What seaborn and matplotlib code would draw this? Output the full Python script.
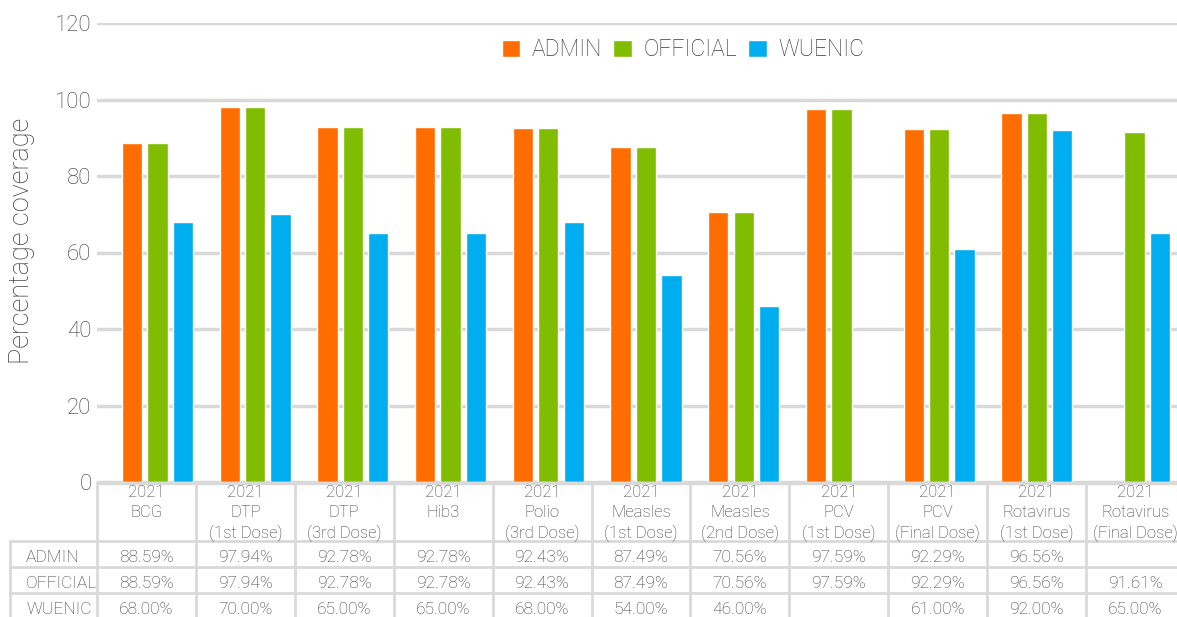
import numpy as np
import pandas as pd
import matplotlib
matplotlib.use("Agg")
import matplotlib.pyplot as plt
import seaborn as sns

# data
vaccines = ["BCG", "DTP\n(1st Dose)", "DTP\n(3rd Dose)", "Hib3", "Polio\n(3rd Dose)",
            "Measles\n(1st Dose)", "Measles\n(2nd Dose)", "PCV\n(1st Dose)",
            "PCV\n(Final Dose)", "Rotavirus\n(1st Dose)", "Rotavirus\n(Final Dose)"]
year = "2021"
admin = [88.59, 97.94, 92.78, 92.78, 92.43, 87.49, 70.56, 97.59, 92.29, 96.56, None]
official = [88.59, 97.94, 92.78, 92.78, 92.43, 87.49, 70.56, 97.59, 92.29, 96.56, 91.61]
wuenic = [68.00, 70.00, 65.00, 65.00, 68.00, 54.00, 46.00, None, 61.00, 92.00, 65.00]
series = ["ADMIN", "OFFICIAL", "WUENIC"]
colors = ["#FF6C00", "#80BC00", "#00AEEF"]

TXT = "#3A3A3A"
GRID = "#D9D9D9"
W, H = 1177, 617

sns.set_theme(style="white")
plt.rcParams["font.family"] = ["Roboto", "DejaVu Sans"]
plt.rcParams["font.weight"] = "light"

rows = []
for name, vals in zip(series, [admin, official, wuenic]):
    for v, val in zip(vaccines, vals):
        rows.append({"vaccine": v, "series": name, "value": val})
df = pd.DataFrame(rows)

fig = plt.figure(figsize=(W / 100, H / 100), dpi=100)

# bar axes placed in pixel terms
ax_left, ax_bottom, ax_top = 97, 482, 23
ax = fig.add_axes([ax_left / W, (H - ax_bottom) / H, (W - ax_left) / W, (ax_bottom - ax_top) / H])
sns.barplot(data=df, x="vaccine", y="value", hue="series", order=vaccines,
            hue_order=series, palette=colors, width=0.78, gap=0.2,
            saturation=1, ax=ax, legend=True)

grp0, grp_step = 157.5, 97.7
ax.set_xlim((ax_left - grp0) / grp_step, (W - grp0) / grp_step)
ax.set_ylim(0, 120)
ax.set_yticks(range(0, 121, 20))
ax.yaxis.grid(True, color=GRID, lw=2.5)
ax.set_axisbelow(True)
for s in ax.spines.values():
    s.set_visible(False)
ax.set_xticks([])
ax.set_xlabel("")
ax.set_ylabel("")
ax.tick_params(axis="y", length=0, pad=4, labelsize=16, labelcolor=TXT)

fig.text(22 / W, 1 - 241 / H, "Percentage coverage", rotation=90, ha="center",
         va="center", fontsize=19.5, color=TXT)

handles, labels = ax.get_legend_handles_labels()
ax.legend(handles, labels, loc="center", bbox_to_anchor=(683 / W, 1 - 50 / H),
          bbox_transform=fig.transFigure, ncol=3, frameon=False, fontsize=16.5,
          handlelength=0.8, handleheight=0.8, handletextpad=0.5, columnspacing=0.5,
          labelcolor=TXT)

# data table beneath the bars, in pixel coordinates
tax = fig.add_axes([0, 0, 1, (H - ax_bottom) / H])
tax.set_xlim(0, W)
tax.set_ylim(H, ax_bottom)
tax.axis("off")

col0, col_w = 97, 98.9
lab_x0 = 10
row_lines = [541, 567, 593]
row_mid = [558, 583, 609]

tax.plot([col0, W], [ax_bottom + 1, ax_bottom + 1], color=GRID, lw=2.5, clip_on=False)
for k in range(len(vaccines) + 1):
    x = col0 + k * col_w
    tax.plot([x, x], [ax_bottom, H], color=GRID, lw=2)
tax.plot([lab_x0, lab_x0], [row_lines[0], H], color=GRID, lw=2)
for y in row_lines:
    tax.plot([lab_x0, W], [y, y], color=GRID, lw=2)

for k, v in enumerate(vaccines):
    cx = col0 + (k + 0.5) * col_w
    tax.text(cx, 485, year + "\n" + v, ha="center", va="top", fontsize=12,
             color=TXT, linespacing=1.4)
    for r, vals in enumerate([admin, official, wuenic]):
        if vals[k] is not None:
            tax.text(cx, row_mid[r], f"{vals[k]:.2f}%", ha="center", va="center",
                     fontsize=12.5, color=TXT)

for r, name in enumerate(series):
    tax.text(26, row_mid[r], name, ha="left", va="center", fontsize=12.5, color=TXT)

fig.savefig("out.png", dpi=100)
